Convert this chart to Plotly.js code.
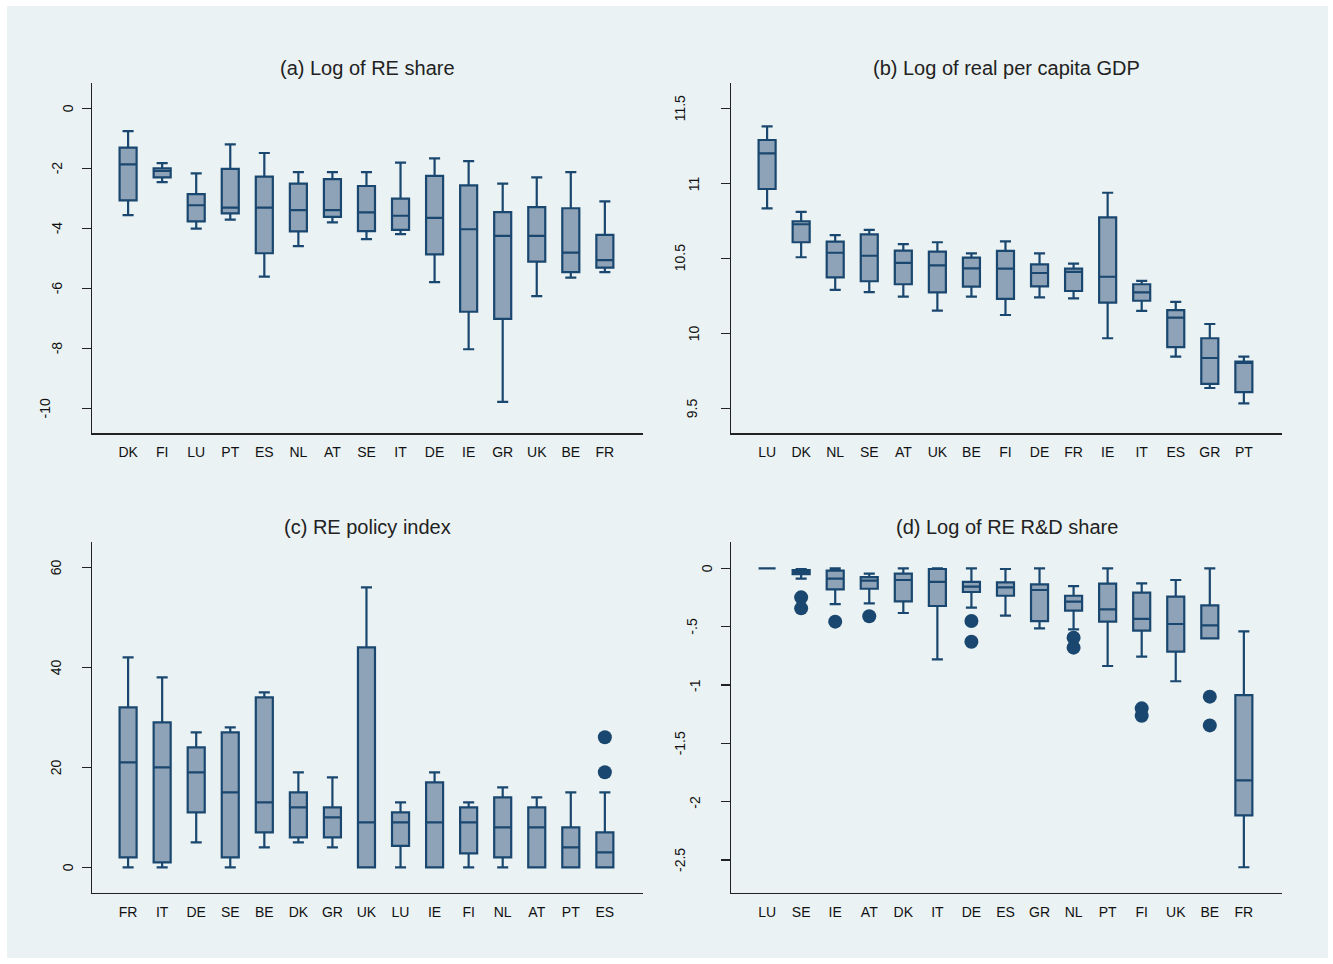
<!DOCTYPE html>
<html>
<head>
<meta charset="utf-8">
<script src="https://cdn.plot.ly/plotly-3.0.1.min.js"></script>
<style>html,body{margin:0;padding:0;background:#fff;}#chart{width:1333px;height:964px;}</style>
</head>
<body>
<div id="chart"></div>
<script>
// (a) Log of RE share
const catsA = ["DK","FI","LU","PT","ES","NL","AT","SE","IT","DE","IE","GR","UK","BE","FR"];
const hiA  = [-0.76,-1.83,-2.17,-1.20,-1.49,-2.13,-2.13,-2.13,-1.81,-1.67,-1.76,-2.51,-2.30,-2.13,-3.10];
const q3A  = [-1.31,-2.00,-2.86,-2.02,-2.28,-2.51,-2.36,-2.59,-3.01,-2.25,-2.57,-3.46,-3.29,-3.33,-4.22];
const medA = [-1.87,-2.09,-3.23,-3.31,-3.31,-3.39,-3.39,-3.47,-3.58,-3.65,-4.03,-4.25,-4.25,-4.81,-5.06];
const q1A  = [-3.07,-2.30,-3.77,-3.50,-4.83,-4.10,-3.62,-4.09,-4.05,-4.87,-6.78,-7.02,-5.11,-5.46,-5.31];
const loA  = [-3.56,-2.46,-4.01,-3.71,-5.61,-4.59,-3.80,-4.36,-4.19,-5.79,-8.03,-9.78,-6.26,-5.64,-5.46];

// (b) Log of real per capita GDP
const catsB = ["LU","DK","NL","SE","AT","UK","BE","FI","DE","FR","IE","IT","ES","GR","PT"];
const hiB  = [11.38,10.81,10.655,10.69,10.595,10.607,10.533,10.613,10.533,10.464,10.937,10.349,10.209,10.062,9.844];
const q3B  = [11.289,10.747,10.611,10.66,10.551,10.544,10.504,10.549,10.46,10.431,10.773,10.327,10.155,9.967,9.811];
const medB = [11.2,10.727,10.537,10.517,10.469,10.453,10.433,10.431,10.402,10.409,10.377,10.273,10.104,9.835,9.802];
const q1B  = [10.962,10.607,10.373,10.347,10.327,10.273,10.311,10.229,10.313,10.282,10.204,10.217,9.907,9.662,9.607];
const loB  = [10.833,10.507,10.289,10.275,10.244,10.151,10.244,10.122,10.24,10.233,9.967,10.149,9.844,9.635,9.533];

// (c) RE policy index
const catsC = ["FR","IT","DE","SE","BE","DK","GR","UK","LU","IE","FI","NL","AT","PT","ES"];
const hiC  = [42,38,27,28,35,19,18,56,13,19,13,16,14,15,15];
const q3C  = [32,29,24,27,34,15,12,44,11,17,12,14,12,8,7];
const medC = [21,20,19,15,13,12,10,9,9,9,9,8,8,4,3];
const q1C  = [2,1,11,2,7,6,6,0,4.3,0,2.8,2,0,0,0];
const loC  = [0,0,5,0,4,5,4,0,0,0,0,0,0,0,0];
const outCatC = ["ES","ES"];
const outValC = [26,19];

// (d) Log of RE R&D share
const catsD = ["LU","SE","IE","AT","DK","IT","DE","ES","GR","NL","PT","FI","UK","BE","FR"];
const hiD  = [0,-0.006,0,-0.046,0,0,0,-0.006,0,-0.152,0,-0.129,-0.1,0,-0.54];
const q3D  = [0,-0.015,-0.02,-0.075,-0.046,-0.006,-0.117,-0.12,-0.137,-0.235,-0.132,-0.209,-0.243,-0.317,-1.086];
const medD = [0,-0.03,-0.089,-0.106,-0.1,-0.117,-0.157,-0.163,-0.186,-0.286,-0.351,-0.434,-0.477,-0.489,-1.817];
const q1D  = [0,-0.05,-0.18,-0.175,-0.283,-0.323,-0.203,-0.235,-0.452,-0.363,-0.457,-0.534,-0.714,-0.6,-2.117];
const loD  = [0,-0.089,-0.306,-0.3,-0.383,-0.78,-0.337,-0.406,-0.514,-0.523,-0.837,-0.757,-0.968,-0.6,-2.562];
const outCatD = ["SE","SE","IE","AT","DE","DE","NL","NL","FI","FI","BE","BE"];
const outValD = [-0.249,-0.343,-0.457,-0.411,-0.452,-0.629,-0.595,-0.68,-1.2,-1.263,-1.1,-1.346];

// y-axis tick values and labels
const tickA = [0,-2,-4,-6,-8,-10], tickTextA = ["0","-2","-4","-6","-8","-10"];
const tickB = [9.5,10,10.5,11,11.5], tickTextB = ["9.5","10","10.5","11","11.5"];
const tickC = [0,20,40,60], tickTextC = ["0","20","40","60"];
const tickD = [0,-0.5,-1,-1.5,-2,-2.5], tickTextD = ["0","-.5","-1","-1.5","-2","-2.5"];

const titles = ["(a) Log of RE share","(b) Log of real per capita GDP","(c) RE policy index","(d) Log of RE R&D share"];

// ---- styling / placement (not data) ----
const NAVY = "#1a476f";
const FILL = "#8ea3b7";
const W = 1333, H = 964;
const FONT = "Liberation Sans, Arial, sans-serif";
// horizontal distance (px) of each rotated tick label centre from its axis line (Stata-style placement)
const labelOffsetA = [24, 35, 35, 35, 35, 47];
const labelOffsetB = [39, 37, 51, 37, 51];
const labelOffsetC = [24, 36, 36, 36];
const labelOffsetD = [24, 39, 36, 51, 36, 51];

function boxTrace(cats, lo, q1, med, q3, hi, xa, ya) {
  return {
    type: "box", x: cats, q1: q1, median: med, q3: q3, lowerfence: lo, upperfence: hi,
    xaxis: xa, yaxis: ya, width: 0.5, whiskerwidth: 0.65, boxpoints: false,
    fillcolor: FILL, line: {color: NAVY, width: 2.2}, hoverinfo: "skip", showlegend: false
  };
}
function outTrace(cats, vals, xa, ya) {
  return {type: "scatter", mode: "markers", x: cats, y: vals, xaxis: xa, yaxis: ya,
    marker: {color: NAVY, size: 14}, showlegend: false, hoverinfo: "skip"};
}

const data = [
  boxTrace(catsA, loA, q1A, medA, q3A, hiA, "x", "y"),
  boxTrace(catsB, loB, q1B, medB, q3B, hiB, "x2", "y2"),
  boxTrace(catsC, loC, q1C, medC, q3C, hiC, "x3", "y3"),
  outTrace(outCatC, outValC, "x3", "y3"),
  boxTrace(catsD, loD, q1D, medD, q3D, hiD, "x4", "y4"),
  outTrace(outCatD, outValD, "x4", "y4")
];

function xax(cats, x0, x1) {
  return {
    domain: [x0 / W, x1 / W], type: "category", categoryorder: "array", categoryarray: cats,
    range: [-1.06, cats.length - 1 + 1.12], showgrid: false, zeroline: false,
    showline: true, linecolor: "#222", linewidth: 1.5,
    ticks: "outside", ticklen: 6, tickcolor: "rgba(0,0,0,0)",
    tickfont: {family: FONT, size: 14, color: "#111"}, fixedrange: true
  };
}
function yax(tv, rng, y0, y1, anchor) {
  return {
    domain: [1 - y1 / H, 1 - y0 / H], range: rng, tickvals: tv, showticklabels: false,
    showgrid: true, gridcolor: "#eaf2f3", gridwidth: 2, zeroline: false,
    showline: true, linecolor: "#222", linewidth: 1.5,
    ticks: "outside", ticklen: 9, tickwidth: 1.3, tickcolor: "#222",
    anchor: anchor, fixedrange: true
  };
}

function tickLabels(vals, texts, offsets, axisX, yref) {
  return vals.map((v, i) => ({
    text: texts[i], x: (axisX - offsets[i]) / W, xref: "paper", y: v, yref: yref,
    textangle: -90, xanchor: "center", yanchor: "middle", showarrow: false,
    font: {family: FONT, size: 14, color: "#111"}
  }));
}

const titleAnn = [
  {text: titles[0], x: 367.5 / W, y: 1 - 68 / H},
  {text: titles[1], x: 1006.5 / W, y: 1 - 68 / H},
  {text: titles[2], x: 367.5 / W, y: 1 - 527 / H},
  {text: titles[3], x: 1006.5 / W, y: 1 - 527 / H}
].map(a => Object.assign(a, {xref: "paper", yref: "paper", xanchor: "center", yanchor: "middle",
      showarrow: false, font: {family: FONT, size: 20, color: "#222"}}));

const layout = {
  width: W, height: H,
  margin: {l: 0, r: 0, t: 0, b: 0},
  paper_bgcolor: "#ffffff", plot_bgcolor: "#ffffff",
  showlegend: false,
  font: {family: FONT, color: "#111"},
  xaxis:  Object.assign(xax(catsA, 92, 643), {anchor: "y"}),
  xaxis2: Object.assign(xax(catsB, 731, 1282), {anchor: "y2"}),
  xaxis3: Object.assign(xax(catsC, 92, 643), {anchor: "y3"}),
  xaxis4: Object.assign(xax(catsD, 731, 1282), {anchor: "y4"}),
  yaxis:  yax(tickA, [-10.82, 0.843], 83, 433, "x"),
  yaxis2: yax(tickB, [9.335, 11.669], 83, 433, "x2"),
  yaxis3: yax(tickC, [-5.08, 65], 542.3, 892.7, "x3"),
  yaxis4: yax(tickD, [-2.78, 0.223], 542.3, 892.7, "x4"),
  shapes: [{type: "rect", xref: "paper", yref: "paper", x0: 7 / W, x1: 1328 / W, y0: 1 - 958 / H, y1: 1 - 6 / H,
            fillcolor: "#eaf2f3", line: {width: 0}, layer: "below"}],
  annotations: titleAnn
    .concat(tickLabels(tickA, tickTextA, labelOffsetA, 92, "y"))
    .concat(tickLabels(tickB, tickTextB, labelOffsetB, 731, "y2"))
    .concat(tickLabels(tickC, tickTextC, labelOffsetC, 92, "y3"))
    .concat(tickLabels(tickD, tickTextD, labelOffsetD, 731, "y4"))
};

Plotly.newPlot("chart", data, layout, {staticPlot: true, displayModeBar: false});
</script>
</body>
</html>
